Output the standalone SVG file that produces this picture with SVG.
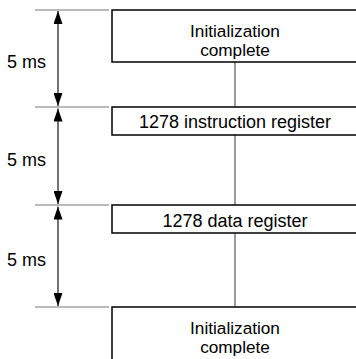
<svg xmlns="http://www.w3.org/2000/svg" width="356" height="359" viewBox="0 0 356 359">
<style>
text{font-family:"Liberation Sans",Arial,sans-serif;font-size:18px;fill:#000}
.box{fill:#fff;stroke:#000;stroke-width:1.5}
.tick{stroke:#777;stroke-width:1.2}
.conn{stroke:#666;stroke-width:1.3;fill:none}
.dim{stroke:#000;stroke-width:1.1;marker-start:url(#ah);marker-end:url(#ah)}
.c{text-anchor:middle}
.two{font-size:17.2px}
</style>
<defs>
<marker id="ah" markerUnits="userSpaceOnUse" markerWidth="13" markerHeight="9" refX="13" refY="4.5" orient="auto-start-reverse">
<path d="M0,0 L13,4.5 L0,9 z" fill="#000"/>
</marker>
</defs>
<g id="connectors">
<line class="conn" x1="235" y1="62" x2="235" y2="107"/>
<line class="conn" x1="235" y1="135" x2="235" y2="205"/>
<line class="conn" x1="235" y1="233" x2="235" y2="307"/>
</g>
<g id="timing">
<line class="tick" x1="35" y1="10" x2="109" y2="10"/>
<line class="tick" x1="35" y1="107" x2="109" y2="107"/>
<line class="tick" x1="35" y1="205" x2="109" y2="205"/>
<line class="tick" x1="35" y1="307" x2="109" y2="307"/>
<line class="dim" x1="58" y1="11" x2="58" y2="106"/>
<line class="dim" x1="58" y1="108.5" x2="58" y2="204"/>
<line class="dim" x1="58" y1="206.5" x2="58" y2="306"/>
<text x="7" y="68">5 ms</text>
<text x="7" y="166">5 ms</text>
<text x="7" y="266">5 ms</text>
</g>
<g id="init1">
<rect class="box" x="112" y="10" width="250" height="52"/>
<text class="c two" x="235" y="36.5">Initialization<tspan x="235" dy="19.3">complete</tspan></text>
</g>
<g id="instr">
<rect class="box" x="112" y="107" width="250" height="28"/>
<text class="c" x="235" y="128">1278 instruction register</text>
</g>
<g id="data">
<rect class="box" x="112" y="205" width="250" height="28"/>
<text class="c" x="235" y="227">1278 data register</text>
</g>
<g id="init2">
<rect class="box" x="112" y="307" width="250" height="60"/>
<text class="c two" x="235" y="333.5">Initialization<tspan x="235" dy="19.3">complete</tspan></text>
</g>
</svg>
